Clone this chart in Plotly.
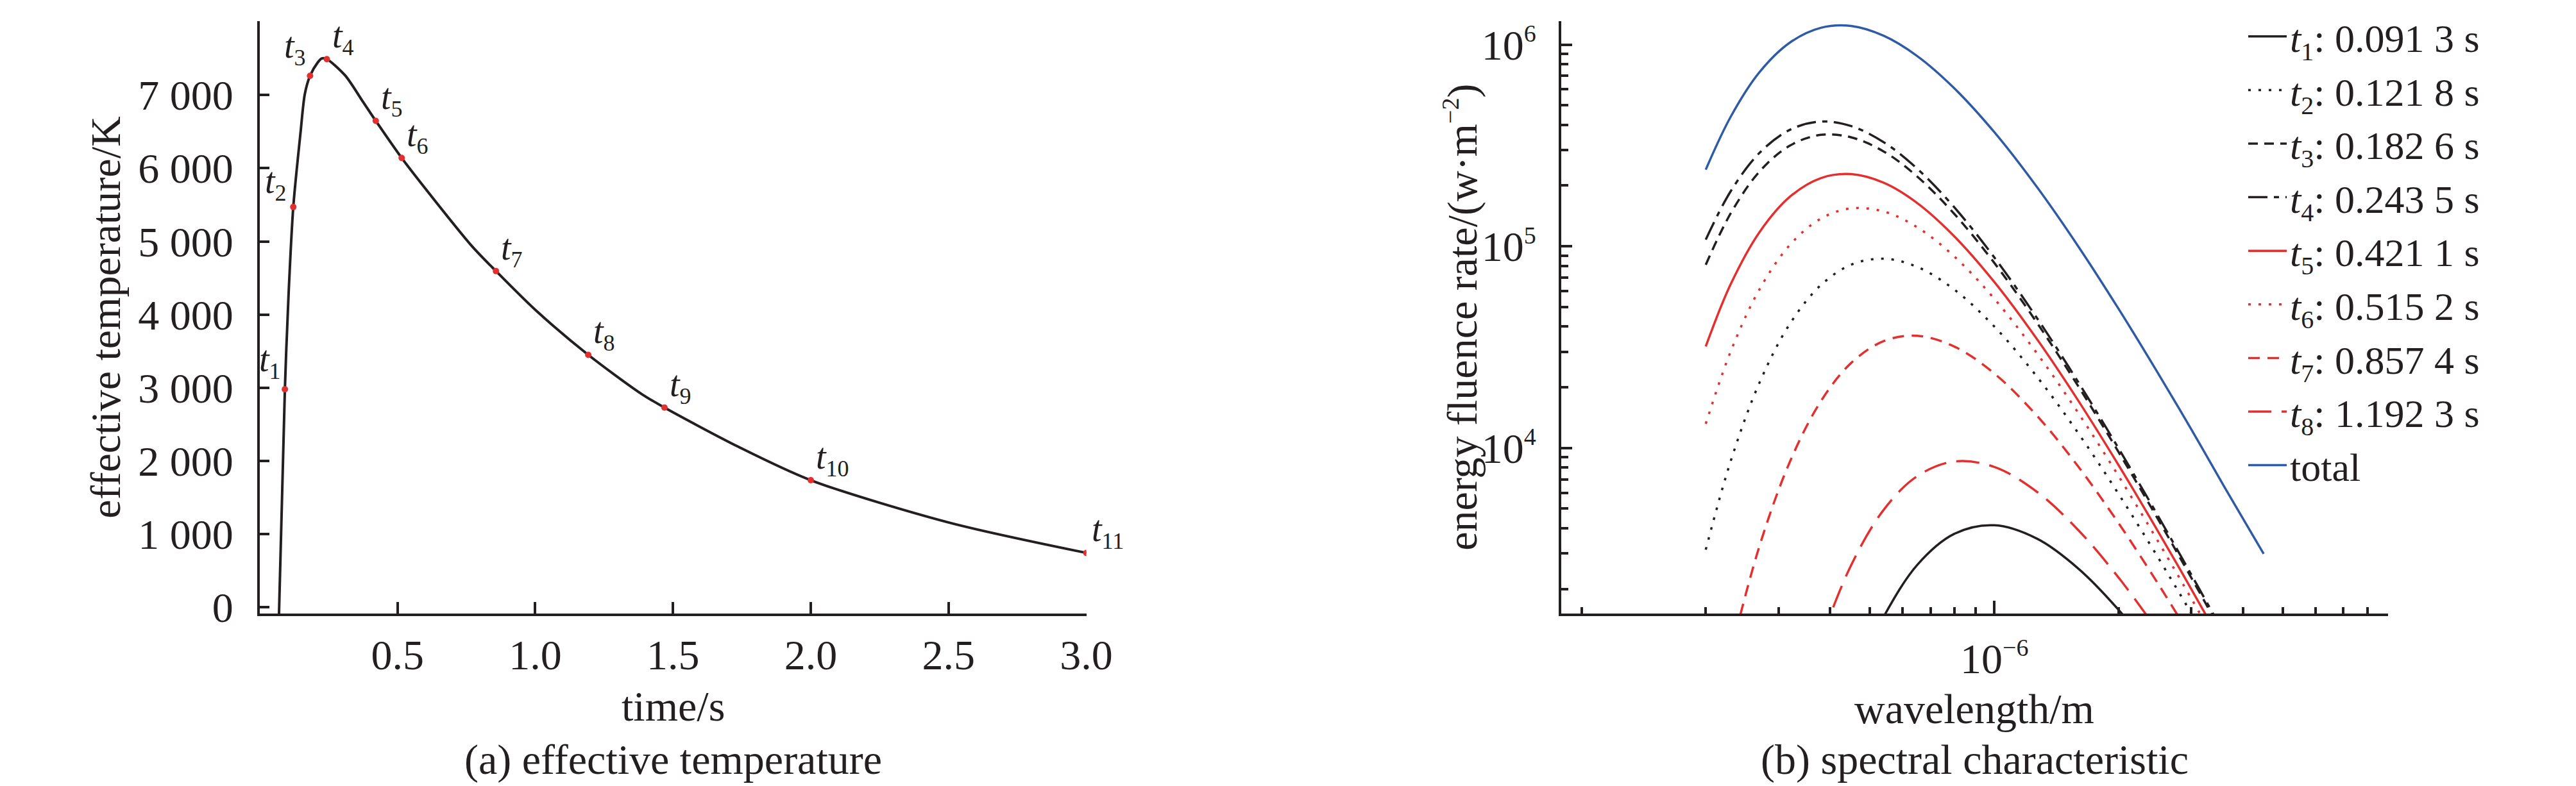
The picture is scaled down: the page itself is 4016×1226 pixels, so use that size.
import plotly.graph_objects as go

# ---------------- data: (a) effective temperature ----------------
time_s = [0.070, 0.0913, 0.105, 0.1218, 0.1485, 0.1637, 0.1826, 0.21, 0.2253, 0.2435,
          0.31, 0.371, 0.4211, 0.5152, 0.617, 0.77, 0.8574, 1.0, 1.1923, 1.386,
          1.469, 1.739, 2.0, 2.504, 3.0]
temp_K = [-85, 2980, 4300, 5470, 6500, 7014, 7262, 7442, 7500, 7490,
          7267, 6929, 6647, 6140, 5646, 4936, 4594, 4065, 3450, 2915,
          2729, 2190, 1737, 1156, 744]

pt_time = [0.0913, 0.1218, 0.1826, 0.2435, 0.4211, 0.5152, 0.8574, 1.1923, 1.469, 2.0, 3.0]
pt_temp = [2980, 5470, 7262, 7490, 6647, 6140, 4594, 3450, 2729, 1737, 744]
pt_names = ["1", "2", "3", "4", "5", "6", "7", "8", "9", "10", "11"]

y_ticks = [0, 1000, 2000, 3000, 4000, 5000, 6000, 7000]
y_ticktext = ["0", "1 000", "2 000", "3 000", "4 000", "5 000", "6 000", "7 000"]
x_ticks = [0.5, 1.0, 1.5, 2.0, 2.5, 3.0]
x_ticktext = ["0.5", "1.0", "1.5", "2.0", "2.5", "3.0"]

# ---------------- data: (b) spectral characteristic ----------------
t1_wl = [5.0e-7, 5.4e-7, 6.5e-7, 8.0e-7, 1.0e-6, 1.27e-6, 1.6e-6, 2.0e-6, 2.5e-6]
t1_E = [1051, 1463, 2629, 3754, 4138, 3546, 2516, 1574, 890]
t2_wl = [2.0e-7, 2.3e-7, 2.7e-7, 3.2e-7, 3.8e-7, 4.5e-7, 5.4e-7, 6.5e-7, 8.0e-7, 1.0e-6,
         1.27e-6, 1.6e-6, 2.0e-6, 2.5e-6, 3.0e-6, 3.6e-6]
t2_E = [3132, 8652, 2.112e4, 4.140e4, 6.42e4, 8.11e4, 8.68e4, 7.91e4, 6.10e4, 4.00e4,
        2.249e4, 1.177e4, 5907, 2831, 1511, 791]
t3_wl = [2.0e-7, 2.3e-7, 2.7e-7, 3.2e-7, 3.8e-7, 4.5e-7, 5.4e-7, 6.5e-7, 8.0e-7, 1.0e-6,
         1.27e-6, 1.6e-6, 2.0e-6, 2.5e-6, 3.0e-6, 3.6e-6]
t3_E = [8.1e4, 1.46e5, 2.35e5, 3.16e5, 3.57e5, 3.47e5, 2.95e5, 2.22e5, 1.447e5, 8.27e4,
        4.16e4, 2.01e4, 9530, 4380, 2270, 1165]
t4_wl = [2.0e-7, 2.3e-7, 2.7e-7, 3.2e-7, 3.8e-7, 4.5e-7, 5.4e-7, 6.5e-7, 8.0e-7, 1.0e-6,
         1.27e-6, 1.6e-6, 2.0e-6, 2.5e-6, 3.0e-6, 3.6e-6]
t4_E = [1.080e5, 1.880e5, 2.908e5, 3.786e5, 4.155e5, 3.945e5, 3.279e5, 2.428e5, 1.560e5, 8.80e4,
        4.39e4, 2.106e4, 9935, 4544, 2351, 1203]
t5_wl = [2.0e-7, 2.3e-7, 2.7e-7, 3.2e-7, 3.8e-7, 4.5e-7, 5.4e-7, 6.5e-7, 8.0e-7, 1.0e-6,
         1.27e-6, 1.6e-6, 2.0e-6, 2.5e-6, 3.0e-6, 3.6e-6]
t5_E = [3.19e4, 6.51e4, 1.177e5, 1.764e5, 2.179e5, 2.280e5, 2.064e5, 1.640e5, 1.120e5, 6.65e4,
        3.45e4, 1.705e4, 8209, 3812, 1995, 1029]
t6_wl = [2.0e-7, 2.3e-7, 2.7e-7, 3.2e-7, 3.8e-7, 4.5e-7, 5.4e-7, 6.5e-7, 8.0e-7, 1.0e-6,
         1.27e-6, 1.6e-6, 2.0e-6, 2.5e-6, 3.0e-6, 3.6e-6]
t6_E = [1.318e4, 3.021e4, 6.13e4, 1.018e5, 1.372e5, 1.542e5, 1.487e5, 1.244e5, 8.90e4, 5.49e4,
        2.935e4, 1.482e4, 7246, 3404, 1792, 931]
t7_wl = [2.3e-7, 2.7e-7, 3.2e-7, 3.8e-7, 4.5e-7, 5.4e-7, 6.5e-7, 8.0e-7, 1.0e-6,
         1.27e-6, 1.6e-6, 2.0e-6, 2.5e-6, 3.0e-6]
t7_E = [971, 3277, 8580, 1.705e4, 2.640e4, 3.392e4, 3.600e4, 3.184e4, 2.340e4,
        1.440e4, 8043, 4231, 2101, 1147]
t8_wl = [3.6e-7, 3.8e-7, 4.5e-7, 5.4e-7, 6.5e-7, 8.0e-7, 1.0e-6, 1.27e-6, 1.6e-6, 2.0e-6, 2.5e-6]
t8_E = [791, 1110, 2627, 4949, 7242, 8573, 8054, 6047, 3898, 2275, 1221]
total_wl = [2.0e-7, 2.3e-7, 2.7e-7, 3.2e-7, 3.8e-7, 4.5e-7, 5.4e-7, 6.5e-7, 8.0e-7, 1.0e-6,
            1.27e-6, 1.6e-6, 2.0e-6, 2.5e-6, 3.0e-6, 3.6e-6, 4.49e-6]
total_E = [2.40e5, 4.40e5, 7.31e5, 1.025e6, 1.212e6, 1.237e6, 1.105e6, 8.78e5, 6.07e5, 3.68e5,
           1.96e5, 9.93e4, 4.89e4, 2.32e4, 1.235e4, 6450, 2985]

SUB_L = '<span style="font-size:40px">{}</span>'
legend_names = [f"<i>t</i><sub>{SUB_L.format(i)}</sub>: {v}" for i, v in
                zip(range(1, 9), ["0.091 3 s", "0.121 8 s", "0.182 6 s", "0.243 5 s",
                                  "0.421 1 s", "0.515 2 s", "0.857 4 s", "1.192 3 s"])] + ["total"]

# ---------------- styling ----------------
FONT = "Liberation Serif"
INK = "#231f20"
RED = "#e3302f"
BLUE = "#2e5aa6"
FS = 66

fig = go.Figure()

fig.add_trace(go.Scatter(x=time_s, y=temp_K, mode="lines",
                         line=dict(color=INK, width=4, shape="spline", smoothing=0.8),
                         xaxis="x", yaxis="y", showlegend=False, hoverinfo="skip"))
fig.add_trace(go.Scatter(x=pt_time, y=pt_temp, mode="markers", marker=dict(color=RED, size=10),
                         xaxis="x", yaxis="y", showlegend=False))

series = [
    (t1_wl, t1_E, INK, "solid"),
    (t2_wl, t2_E, INK, "4px,12px"),
    (t3_wl, t3_E, INK, "15px,10px"),
    (t4_wl, t4_E, INK, "30px,10px,8px,10px"),
    (t5_wl, t5_E, RED, "solid"),
    (t6_wl, t6_E, RED, "4px,12px"),
    (t7_wl, t7_E, RED, "18px,12px"),
    (t8_wl, t8_E, RED, "36px,16px"),
    (total_wl, total_E, BLUE, "solid"),
]
for (wl, e, col, dash), name in zip(series, legend_names):
    fig.add_trace(go.Scatter(x=wl, y=e, mode="lines", name=name,
                             line=dict(color=col, width=3.5, dash=dash, shape="spline", smoothing=1.0),
                             xaxis="x2", yaxis="y2"))

# point labels on (a)
for t, T, n in zip(pt_time, pt_temp, pt_names):
    if n in ("1", "2", "3"):
        xa, xs = "right", (-4 if n != "2" else -8)
        ys = 6 if n != "2" else 0
    else:
        xa, xs, ys = "left", 6, -4
    fig.add_annotation(x=t, y=T, xref="x", yref="y",
                       text=f'<i>t</i><sub><span style="font-size:36px">{n}</span></sub>', showarrow=False,
                       xanchor=xa, yanchor="bottom", xshift=xs, yshift=ys,
                       font=dict(family=FONT, size=56, color=INK))

W, H = 4016, 1226
def px(x): return x / W
def py(y): return 1 - y / H

axis_common = dict(showline=True, linewidth=4, linecolor=INK, showgrid=False, zeroline=False,
                   ticks="inside", tickwidth=4, tickcolor=INK,
                   tickfont=dict(family=FONT, size=FS, color=INK))

SUP = '<sup><span style="font-size:38px">{}</span></sup>'

fig.update_layout(
    width=W, height=H, margin=dict(l=0, r=0, t=0, b=0),
    paper_bgcolor="white", plot_bgcolor="white",
    font=dict(family=FONT, size=FS, color=INK),
    xaxis=dict(domain=[px(401), px(1703)], range=[0, 3.0], anchor="y",
               tickmode="array", tickvals=x_ticks, ticktext=x_ticktext, ticklen=18,
               ticklabelstandoff=4, **axis_common),
    yaxis=dict(domain=[py(970), py(24)], range=[-85, 8005], anchor="x",
               tickmode="array", tickvals=y_ticks, ticktext=y_ticktext, ticklen=15,
               ticklabelstandoff=24, **axis_common),
    xaxis2=dict(domain=[px(2451), px(3753)], type="log", range=[-7.049, -5.047], anchor="y2",
                tickmode="array", tickvals=[1e-6], ticktext=["10" + SUP.format("−6")], ticklen=20,
                ticklabelstandoff=10,
                minor=dict(ticks="inside", ticklen=10, tickwidth=4, tickcolor=INK, tickmode="array",
                           tickvals=[1e-7, 2e-7, 3e-7, 4e-7, 5e-7, 6e-7, 7e-7, 8e-7, 9e-7,
                                     2e-6, 3e-6, 4e-6, 5e-6, 6e-6, 7e-6, 8e-6, 9e-6]),
                **axis_common),
    yaxis2=dict(domain=[py(970), py(24)], type="log", range=[3.179, 6.115], anchor="x2",
                tickmode="array", tickvals=[1e4, 1e5, 1e6],
                ticktext=["10" + SUP.format(4), "10" + SUP.format(5), "10" + SUP.format(6)], ticklen=17,
                ticklabelstandoff=22,
                minor=dict(ticks="inside", ticklen=11, tickwidth=4, tickcolor=INK, tickmode="array",
                           tickvals=[2e3, 3e3, 4e3, 5e3, 6e3, 7e3, 8e3, 9e3,
                                     2e4, 3e4, 4e4, 5e4, 6e4, 7e4, 8e4, 9e4,
                                     2e5, 3e5, 4e5, 5e5, 6e5, 7e5, 8e5, 9e5]),
                **axis_common),
    legend=dict(x=px(3528), y=1.0, xanchor="left", yanchor="top", bgcolor="rgba(0,0,0,0)",
                font=dict(family=FONT, size=62, color=INK), itemwidth=60, tracegroupgap=0),
)

titles = [
    ("time/s", px(1052), py(1118), 0),
    ("(a) effective temperature", px(1052), py(1203), 0),
    ("wavelength/m", px(3102), py(1122), 0),
    ("(b) spectral characteristic", px(3102), py(1203), 0),
    ("effective temperature/K", px(158), py(497), -90),
    ("energy fluence rate/(w·m" + SUP.format("−2") + ")", px(2294), py(497), -90),
]
for text, x, y, ang in titles:
    fig.add_annotation(x=x, y=y, xref="paper", yref="paper", text=text, showarrow=False,
                       xanchor="center", yanchor="middle", textangle=ang,
                       font=dict(family=FONT, size=FS, color=INK))

fig.write_html("out.html")
